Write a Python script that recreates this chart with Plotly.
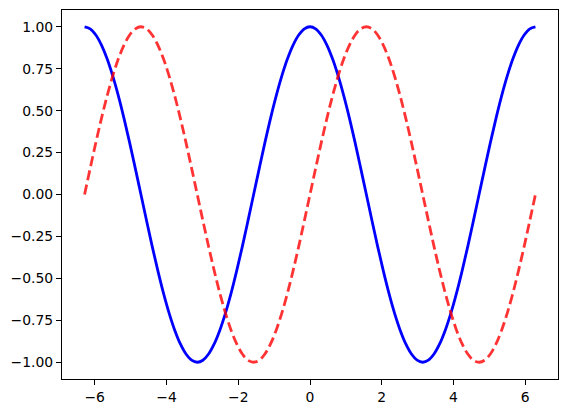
import plotly.graph_objects as go

# x sampled at multiples of pi/20 from -2*pi to 2*pi
x_vals = [-6.283, -6.126, -5.969, -5.812, -5.655, -5.498, -5.341, -5.184, -5.027, -4.869,
          -4.712, -4.555, -4.398, -4.241, -4.084, -3.927, -3.770, -3.613, -3.456, -3.299,
          -3.142, -2.985, -2.827, -2.670, -2.513, -2.356, -2.199, -2.042, -1.885, -1.728,
          -1.571, -1.414, -1.257, -1.100, -0.942, -0.785, -0.628, -0.471, -0.314, -0.157,
          0.0,
          0.157, 0.314, 0.471, 0.628, 0.785, 0.942, 1.100, 1.257, 1.414, 1.571,
          1.728, 1.885, 2.042, 2.199, 2.356, 2.513, 2.670, 2.827, 2.985, 3.142,
          3.299, 3.456, 3.613, 3.770, 3.927, 4.084, 4.241, 4.398, 4.555, 4.712,
          4.869, 5.027, 5.184, 5.341, 5.498, 5.655, 5.812, 5.969, 6.126, 6.283]

blue_vals = [1.0, 0.988, 0.951, 0.891, 0.809, 0.707, 0.588, 0.454, 0.309, 0.156,
             0.0, -0.156, -0.309, -0.454, -0.588, -0.707, -0.809, -0.891, -0.951, -0.988,
             -1.0, -0.988, -0.951, -0.891, -0.809, -0.707, -0.588, -0.454, -0.309, -0.156,
             0.0, 0.156, 0.309, 0.454, 0.588, 0.707, 0.809, 0.891, 0.951, 0.988,
             1.0,
             0.988, 0.951, 0.891, 0.809, 0.707, 0.588, 0.454, 0.309, 0.156, 0.0,
             -0.156, -0.309, -0.454, -0.588, -0.707, -0.809, -0.891, -0.951, -0.988, -1.0,
             -0.988, -0.951, -0.891, -0.809, -0.707, -0.588, -0.454, -0.309, -0.156, 0.0,
             0.156, 0.309, 0.454, 0.588, 0.707, 0.809, 0.891, 0.951, 0.988, 1.0]

red_vals = [0.0, 0.156, 0.309, 0.454, 0.588, 0.707, 0.809, 0.891, 0.951, 0.988,
            1.0, 0.988, 0.951, 0.891, 0.809, 0.707, 0.588, 0.454, 0.309, 0.156,
            0.0, -0.156, -0.309, -0.454, -0.588, -0.707, -0.809, -0.891, -0.951, -0.988,
            -1.0, -0.988, -0.951, -0.891, -0.809, -0.707, -0.588, -0.454, -0.309, -0.156,
            0.0,
            0.156, 0.309, 0.454, 0.588, 0.707, 0.809, 0.891, 0.951, 0.988, 1.0,
            0.988, 0.951, 0.891, 0.809, 0.707, 0.588, 0.454, 0.309, 0.156, 0.0,
            -0.156, -0.309, -0.454, -0.588, -0.707, -0.809, -0.891, -0.951, -0.988, -1.0,
            -0.988, -0.951, -0.891, -0.809, -0.707, -0.588, -0.454, -0.309, -0.156, 0.0]

x_ticks = [-6, -4, -2, 0, 2, 4, 6]
y_ticks = [-1.0, -0.75, -0.5, -0.25, 0.0, 0.25, 0.5, 0.75, 1.0]

fig = go.Figure()
fig.add_trace(go.Scatter(x=x_vals, y=blue_vals, mode="lines",
                         line=dict(color="blue", width=2.8, shape="spline"),
                         showlegend=False))
fig.add_trace(go.Scatter(x=x_vals, y=red_vals, mode="lines",
                         line=dict(color="rgba(255,0,0,0.8)", width=2.8, shape="spline",
                                   dash="10px,4.5px"),
                         showlegend=False))

axis_common = dict(showgrid=False, zeroline=False, showline=True, linecolor="black",
                   linewidth=1.1, mirror=True, ticks="outside", ticklen=5, tickwidth=1.1,
                   tickcolor="black", automargin=False,
                   tickfont=dict(family="DejaVu Sans", size=13.9, color="black"))

fig.update_xaxes(range=[-6.912, 6.912], tickvals=x_ticks, **axis_common)
fig.update_yaxes(range=[-1.1, 1.1], tickvals=y_ticks, tickformat=".2f", **axis_common)

fig.update_layout(width=568, height=413, margin=dict(l=62, r=10, t=10, b=34),
                  plot_bgcolor="white", paper_bgcolor="white")

fig.write_html("out.html", config={"displayModeBar": False},
               post_script="document.body.style.margin='0';")
